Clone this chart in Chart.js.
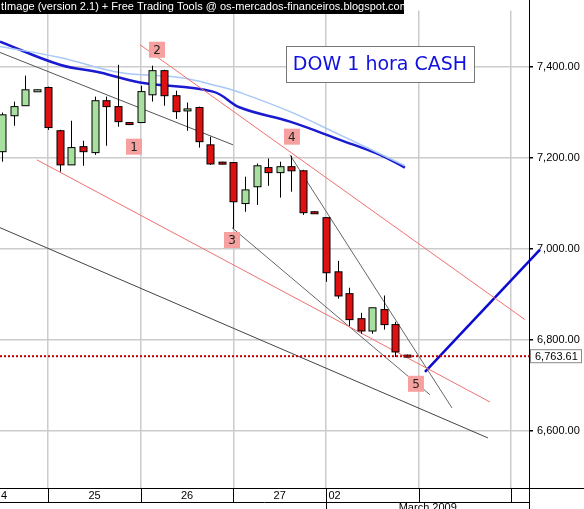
<!DOCTYPE html>
<html>
<head>
<meta charset="utf-8">
<script src="https://cdn.jsdelivr.net/npm/chart.js@4/dist/chart.umd.min.js"></script>
<style>
  body { margin: 0; background: #fff; }
  #wrap { width: 584px; height: 509px; }
</style>
</head>
<body>
<div id="wrap"><canvas id="chart" width="584" height="509"></canvas></div>
<script>
// velas de uma hora (open, high, low, close)
const opens  = [7213,7292,7314,7347,7354,7259,7184,7224,7211,7325,7312,7277,7277,7338,7391,7336,7303,7310,7228,7190,7189,7099,7136,7178,7167,7180,7171,7081,7068,6949,6901,6846,6819,6866,6833,6766];
const highs  = [7299,7323,7380,7350,7356,7261,7281,7237,7334,7334,7404,7278,7358,7402,7393,7347,7321,7312,7246,7191,7189,7158,7187,7198,7191,7204,7173,7082,7068,6973,6914,6859,6870,6897,6839,6767];
const lows   = [7191,7270,7314,7346,7261,7169,7184,7182,7206,7226,7268,7274,7277,7323,7314,7285,7259,7222,7184,7185,7044,7081,7096,7138,7112,7125,7074,7079,6927,6890,6830,6813,6813,6822,6762,6764];
const closes = [7294,7312,7349,7349,7266,7184,7222,7213,7325,7312,7279,7275,7345,7391,7336,7301,7307,7235,7186,7186,7103,7129,7182,7167,7180,7171,7079,7080,6947,6896,6844,6819,6870,6833,6773,6765];

// médias móveis
const maDarkX  = [-0.17,5.01,8.47,11.93,18.24,20.57,24.89,29.21,32.67,34.83];
const maDarkY  = [7455,7404,7387,7365,7345,7310,7279,7239,7206,7178];
const maLightX = [-0.17,5.01,10.2,15.38,18.84,20.57,24.89,29.21,34.83];
const maLightY = [7444,7420,7387,7376,7356,7343,7301,7250,7182];

// linhas de tendência [x1, y1, x2, y2]
const trendGrey1  = [-0.17,7431,19.97,7228];
const trendRedTop = [11.93,7448,45.2,6844];
const trendRedLow = [3.02,7195,42.18,6663];
const trendGrey2  = [19.88,7046,36.99,6679];
const trendGrey3  = [24.89,7206,38.89,6650];
const trendBottom = [-0.17,7046,42,6584];
const forecast    = [36.56,6729,46.5,6998];

const waveLabels = ["1","2","3","4","5"];
const waveX = [11.41,13.4,19.88,25.06,35.78];
const waveY = [7224,7437,7019,7246,6703];

const lastPrice = 6763.61;
const dayTicks = [4,12,20,28,36,44];
const dayLabels = ["24","25","26","27","02",""];
const yTicks = [6600,6800,7000,7200,7400];

function seg(a) { return [{ x: a[0], y: a[1] }, { x: a[2], y: a[3] }]; }
function line(a, color, width) {
  return { data: seg(a), borderColor: color, borderWidth: width, pointRadius: 0, showLine: true };
}

const candlePlugin = {
  id: "candles",
  afterDatasetsDraw(chart) {
    const { ctx, scales: { x, y }, chartArea } = chart;
    ctx.save();
    // velas
    opens.forEach((o, i) => {
      const px = Math.round(x.getPixelForValue(i)) + 0.5;
      const up = closes[i] >= o;
      ctx.strokeStyle = "#000";
      ctx.lineWidth = 1;
      ctx.beginPath();
      ctx.moveTo(px, y.getPixelForValue(highs[i]));
      ctx.lineTo(px, y.getPixelForValue(lows[i]));
      ctx.stroke();
      const top = y.getPixelForValue(Math.max(o, closes[i]));
      const bot = y.getPixelForValue(Math.min(o, closes[i]));
      const h = Math.max(bot - top, 2);
      ctx.fillStyle = up ? "#a8e0a0" : "#dd1111";
      ctx.fillRect(px - 3.5, top, 7, h);
      ctx.strokeRect(px - 3.5, top, 7, h);
    });
    // linha do último preço
    const ly = y.getPixelForValue(lastPrice);
    ctx.strokeStyle = "#c00000";
    ctx.lineWidth = 2;
    ctx.setLineDash([2, 2]);
    ctx.beginPath();
    ctx.moveTo(0, ly);
    ctx.lineTo(chartArea.right, ly);
    ctx.stroke();
    ctx.setLineDash([]);
    ctx.fillStyle = "#fff";
    ctx.fillRect(chartArea.right + 1, ly - 7, 52, 14);
    ctx.strokeStyle = "#888";
    ctx.lineWidth = 1;
    ctx.strokeRect(chartArea.right + 1.5, ly - 6.5, 51, 13);
    ctx.fillStyle = "#000";
    ctx.font = "11px 'Liberation Sans', Arial";
    ctx.textBaseline = "middle";
    ctx.fillText("6,763.61", chartArea.right + 6, ly + 1);
    // rótulos das ondas
    ctx.font = "12px 'DejaVu Sans', sans-serif";
    ctx.textAlign = "center";
    waveLabels.forEach((t, i) => {
      const px = x.getPixelForValue(waveX[i]);
      const py = y.getPixelForValue(waveY[i]);
      ctx.fillStyle = "#f7a0a0";
      ctx.fillRect(px - 8, py - 8, 16, 16);
      ctx.fillStyle = "#222";
      ctx.fillText(t, px, py + 1);
    });
    // título
    ctx.fillStyle = "#fff";
    ctx.fillRect(286, 46, 188, 36);
    ctx.strokeStyle = "#777";
    ctx.strokeRect(286.5, 46.5, 188, 36);
    ctx.fillStyle = "#1010e0";
    ctx.font = "19px 'DejaVu Sans', sans-serif";
    ctx.fillText("DOW 1 hora CASH", 380, 65);
    // faixa superior
    ctx.fillStyle = "#000";
    ctx.fillRect(0, 0, 404, 14);
    ctx.fillStyle = "#fff";
    ctx.font = "11px 'Liberation Sans', Arial";
    ctx.textAlign = "left";
    ctx.fillText("tImage (version 2.1) + Free Trading Tools @ os-mercados-financeiros.blogspot.com", 1, 7);
    // eixo de datas
    const b = chartArea.bottom;
    ctx.strokeStyle = "#000";
    ctx.beginPath();
    ctx.moveTo(0, b + 0.5); ctx.lineTo(584, b + 0.5);
    ctx.moveTo(0, b + 14.5); ctx.lineTo(chartArea.right, b + 14.5);
    dayTicks.forEach(t => {
      const px = Math.round(x.getPixelForValue(t)) + 0.5;
      ctx.moveTo(px, b); ctx.lineTo(px, b + 14);
    });
    const mx = Math.round(x.getPixelForValue(28)) + 0.5;
    ctx.moveTo(mx, b); ctx.lineTo(mx, 509);
    ctx.moveTo(chartArea.right + 0.5, 0); ctx.lineTo(chartArea.right + 0.5, 509);
    ctx.stroke();
    ctx.fillStyle = "#000";
    ctx.fillText("4", 1, b + 8);
    ctx.textAlign = "center";
    dayLabels.forEach((t, i) => {
      if (i === 0 || i >= 4) return;
      ctx.fillText(t, x.getPixelForValue(dayTicks[i - 1] + 4), b + 8);
    });
    ctx.textAlign = "left";
    ctx.fillText(dayLabels[4], mx + 2, b + 8);
    ctx.textAlign = "center";
    ctx.fillText("March 2009", (mx + chartArea.right) / 2, b + 20);
    ctx.restore();
  }
};

new Chart(document.getElementById("chart"), {
  type: "scatter",
  data: {
    datasets: [
      line(trendGrey1, "#555", 1),
      line(trendRedTop, "#f07070", 1),
      line(trendRedLow, "#f07070", 1),
      line(trendGrey2, "#666", 1),
      line(trendGrey3, "#666", 1),
      line(trendBottom, "#444", 1),
      { data: maLightX.map((v, i) => ({ x: v, y: maLightY[i] })), borderColor: "#a8c8f8", borderWidth: 1.5, pointRadius: 0, showLine: true, tension: 0.4 },
      { data: maDarkX.map((v, i) => ({ x: v, y: maDarkY[i] })), borderColor: "#1a1ad0", borderWidth: 2.5, pointRadius: 0, showLine: true, tension: 0.4 },
      Object.assign(line(forecast, "#0a0ad0", 2.5), { clip: false })
    ]
  },
  plugins: [candlePlugin],
  options: {
    responsive: false,
    animation: false,
    events: [],
    layout: { padding: { left: 0, top: 0, bottom: 21, right: 0 } },
    plugins: { legend: { display: false }, tooltip: { enabled: false } },
    scales: {
      x: {
        type: "linear", min: -0.17, max: 45.55,
        afterBuildTicks: s => { s.ticks = dayTicks.map(v => ({ value: v })); },
        ticks: { display: false },
        grid: { color: "#cccccc", lineWidth: 1.5, drawTicks: false },
        border: { display: false }
      },
      y: {
        position: "right", min: 6474, max: 7523,
        afterBuildTicks: s => { s.ticks = yTicks.map(v => ({ value: v })); },
        afterFit: s => { s.width = 55; },
        ticks: {
          color: "#000", padding: 4,
          font: { family: "'Liberation Sans', Arial", size: 11 },
          callback: v => v.toLocaleString("en-US", { minimumFractionDigits: 2 })
        },
        grid: { color: "#cccccc", lineWidth: 1.5, tickLength: 4, tickColor: "#000" },
        border: { color: "#000" }
      }
    }
  }
});
</script>
</body>
</html>
